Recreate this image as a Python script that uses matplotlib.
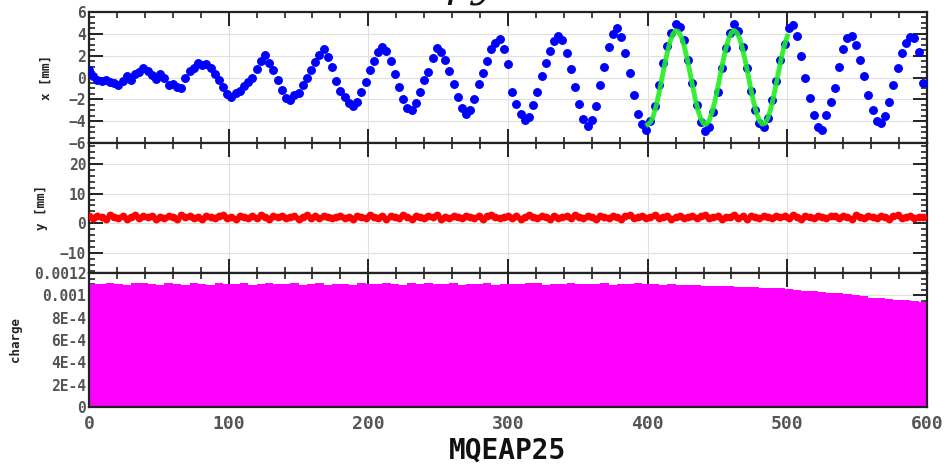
import numpy as np
import matplotlib
matplotlib.use("Agg")
import matplotlib.pyplot as plt
import matplotlib.ticker as mticker

# ── data ────────────────────────────────────────────────────────────────
turn_x = np.arange(0, 600, 3)
x_mm = [
    0.7, 0.1, -0.2, -0.3, -0.2, -0.4, -0.5, -0.7, -0.3, 0.1,
    -0.2, 0.3, 0.5, 0.9, 0.6, 0.2, -0.1, 0.3, 0.0, -0.7,
    -0.6, -0.9, -1.0, 0.0, 0.6, 0.9, 1.3, 1.1, 1.2, 0.9,
    0.3, -0.2, -0.9, -1.5, -1.8, -1.4, -1.2, -0.8, -0.4, 0.0,
    0.8, 1.5, 2.1, 1.3, 0.7, -0.2, -1.1, -1.9, -2.1, -1.6,
    -1.4, -0.7, 0.0, 0.7, 1.4, 2.1, 2.6, 1.9, 1.0, -0.3,
    -1.2, -1.8, -2.3, -2.6, -2.2, -1.3, -0.4, 0.7, 1.5, 2.3,
    2.8, 2.4, 1.5, 0.3, -0.9, -2.0, -2.8, -3.0, -2.3, -1.3,
    -0.2, 0.5, 1.8, 2.7, 2.3, 1.6, 0.6, -0.6, -1.8, -2.8,
    -3.3, -3.0, -2.0, -0.6, 0.4, 1.5, 2.6, 3.2, 3.5, 2.6,
    1.2, -1.3, -2.4, -3.3, -3.9, -3.6, -2.5, -1.3, 0.1, 1.3,
    2.4, 3.3, 3.8, 3.4, 2.2, 0.8, -0.9, -2.4, -3.8, -4.4,
    -3.9, -2.6, -0.7, 1.0, 2.8, 4.0, 4.5, 3.7, 2.2, 0.4,
    -1.6, -3.3, -4.3, -4.8, -4.0, -2.6, -0.7, 1.3, 2.9, 4.1,
    4.9, 4.6, 3.4, 1.6, -0.5, -2.5, -4.1, -4.9, -4.5, -3.2,
    -1.3, 0.9, 2.7, 4.1, 4.9, 4.3, 2.8, 0.9, -1.2, -3.0,
    -4.2, -4.5, -3.7, -2.1, -0.3, 1.6, 3.1, 4.5, 4.8, 3.8,
    2.0, 0.0, -1.9, -3.4, -4.5, -4.8, -3.4, -2.2, -1.0, 1.0,
    2.6, 3.6, 3.8, 3.0, 1.6, 0.1, -1.6, -3.0, -4.0, -4.2,
    -3.5, -2.2, -0.7, 0.9, 2.2, 3.2, 3.7, 3.6, 2.3, -0.5,
]

turn_fit = np.arange(400, 501, 2)
x_fit = [
    -4.30, -4.10, -3.53, -2.63, -1.49, -0.21, 1.08, 2.28, 3.27, 3.96,
    4.28, 4.21, 3.75, 2.95, 1.88, 0.64, -0.67, -1.91, -2.98, -3.77,
    -4.22, -4.28, -3.94, -3.25, -2.25, -1.05, 0.25, 1.52, 2.66, 3.55,
    4.11, 4.30, 4.09, 3.51, 2.60, 1.46, 0.18, -1.12, -2.31, -3.29,
    -3.97, -4.28, -4.20, -3.74, -2.93, -1.85, -0.60, 0.70, 1.94, 3.00,
    3.79,
]

turn_y = np.arange(0, 600, 3)
y_mm = [
    2.3, 1.8, 2.5, 2.0, 1.6, 2.7, 2.2, 1.9, 2.4, 1.5, 2.1, 2.8, 1.7, 2.3, 2.0, 2.6, 1.4, 2.2, 1.9, 2.5,
    2.1, 1.6, 2.9, 2.0, 2.4, 1.8, 2.2, 1.5, 2.6, 2.0, 1.7, 2.3, 2.8, 1.9, 2.1, 1.6, 2.5, 2.2, 1.8, 2.4,
    1.9, 2.7, 2.0, 1.5, 2.3, 2.1, 2.6, 1.8, 2.0, 2.4, 1.6, 2.2, 2.9, 1.9, 2.3, 1.7, 2.5, 2.0, 1.8, 2.2,
    2.6, 1.9, 2.1, 1.5, 2.4, 2.2, 1.7, 2.7, 2.0, 1.8, 2.3, 1.6, 2.5, 2.1, 1.9, 2.8, 2.0, 1.6, 2.3, 2.2,
    1.8, 2.4, 2.0, 2.7, 1.5, 2.2, 1.9, 2.5, 2.1, 1.7, 2.6, 2.0, 1.8, 2.3, 1.6, 2.4, 2.9, 2.0, 1.7, 2.2,
    2.3, 1.9, 2.5, 1.6, 2.1, 2.7, 2.0, 1.8, 2.4, 2.2, 1.5, 2.6, 1.9, 2.1, 2.3, 1.7, 2.8, 2.0, 1.9, 2.4,
    2.0, 1.6, 2.5, 2.2, 1.8, 2.6, 2.1, 1.5, 2.3, 2.7, 1.9, 2.0, 2.4, 1.7, 2.2, 2.8, 1.8, 2.1, 2.5, 1.6,
    2.2, 2.6, 1.9, 2.0, 2.4, 1.7, 2.3, 2.9, 1.8, 2.1, 2.5, 1.6, 2.2, 2.0, 2.7, 1.9, 2.3, 1.5, 2.4, 2.1,
    1.9, 2.5, 2.1, 1.7, 2.6, 2.0, 2.3, 1.8, 2.8, 2.2, 1.6, 2.4, 2.0, 1.9, 2.5, 2.1, 1.7, 2.6, 2.3, 1.8,
    2.4, 2.0, 1.6, 2.7, 2.2, 1.9, 2.5, 2.1, 1.8, 2.6, 2.0, 1.5, 2.3, 2.8, 1.9, 2.2, 2.4, 1.7, 2.1, 2.0,
]

turn_q = np.arange(0, 600, 6)
charge_e4 = [
    11.05, 10.98, 11.10, 11.02, 10.95, 11.08, 11.12, 11.00, 10.96, 11.06,
    11.03, 10.92, 11.07, 11.01, 10.97, 11.09, 11.04, 10.99, 11.11, 10.94,
    11.02, 11.06, 10.98, 11.00, 11.08, 10.95, 11.03, 11.10, 10.97, 11.05,
    11.01, 10.93, 11.07, 11.04, 10.99, 11.09, 11.02, 10.96, 11.06, 11.00,
    11.11, 10.98, 11.03, 11.07, 10.95, 11.05, 11.01, 11.09, 10.97, 11.04,
    11.02, 10.99, 11.08, 11.06, 10.96, 11.03, 11.00, 11.10, 10.98, 11.05,
    11.01, 11.07, 10.97, 11.04, 10.99, 11.06, 11.02,
    11.00, 10.96, 10.98, 10.93, 10.95, 10.90, 10.88, 10.85, 10.82, 10.80,
    10.78, 10.74, 10.72, 10.70, 10.66, 10.62, 10.55, 10.48, 10.42, 10.36,
    10.30, 10.25, 10.18, 10.10, 10.02, 9.90, 9.80, 9.72, 9.66, 9.60,
    9.55, 9.48, 9.42,
]
charge = np.array(charge_e4) * 1e-4

# ── figure ──────────────────────────────────────────────────────────────
MONO = "DejaVu Sans Mono"
TICK_C = "#555555"

fig = plt.figure(figsize=(9.49, 4.68), dpi=100, facecolor="white")
L, R = 89 / 949, 927 / 949
W = R - L
def ybox(top_px, bot_px):
    return [L, 1 - bot_px / 468, W, (bot_px - top_px) / 468]

ax1 = fig.add_axes(ybox(12, 143))
ax2 = fig.add_axes(ybox(143, 273), sharex=ax1)
ax3 = fig.add_axes(ybox(273, 407), sharex=ax1)

# top : x
ax1.plot(turn_x, x_mm, "o", color="#0000ff", ms=5.4, mec="#0000ff", zorder=3)
ax1.plot(turn_fit, x_fit, "-", color="#22ee22", lw=3.5, alpha=0.9, zorder=4)
ax1.set_ylim(-6, 6)
ax1.yaxis.set_major_locator(mticker.MultipleLocator(2))
ax1.yaxis.set_minor_locator(mticker.MultipleLocator(0.5))
ax1.set_ylabel("x [mm]", family=MONO, fontsize=9, fontweight="bold", color="#222222")
ax1.yaxis.set_label_coords(-0.043, 0.5)

# middle : y
ax2.plot(turn_y, y_mm, "o", color="#ff0000", ms=4.6, mec="#ff0000", zorder=3)
ax2.set_ylim(-16.7, 27)
ax2.yaxis.set_major_locator(mticker.FixedLocator([-10, 0, 10, 20]))
ax2.yaxis.set_minor_locator(mticker.MultipleLocator(2))
ax2.set_ylabel("y [mm]", family=MONO, fontsize=9, fontweight="bold", color="#222222")
ax2.yaxis.set_label_coords(-0.049, 0.5)

# bottom : charge
ax3.bar(turn_q, charge, width=6, align="edge", color="#ff00ff", linewidth=0, zorder=2)
ax3.set_ylim(0, 0.0012)
ax3.set_yticks([0, 2e-4, 4e-4, 6e-4, 8e-4, 1e-3, 1.2e-3])
ax3.set_yticklabels(["0", "2E-4", "4E-4", "6E-4", "8E-4", "0.001", "0.0012"])
ax3.yaxis.set_minor_locator(mticker.MultipleLocator(0.5e-4))
ax3.set_ylabel("charge", family=MONO, fontsize=9, fontweight="bold", color="#222222")
ax3.yaxis.set_label_coords(-0.080, 0.5)

ax3.set_xlim(0, 600)
ax3.xaxis.set_major_locator(mticker.MultipleLocator(100))
ax3.xaxis.set_minor_locator(mticker.MultipleLocator(20))
ax3.set_xlabel("MQEAP25", family=MONO, fontsize=20, fontweight="bold",
               color="#111111", labelpad=2)

for ax in (ax1, ax2, ax3):
    ax.grid(True, which="major", color="#e0e0e0", lw=0.8, zorder=0)
    ax.set_axisbelow(True)
    for s in ax.spines.values():
        s.set_linewidth(1.6)
        s.set_color("#222222")
    ax.tick_params(which="both", direction="in", top=True, right=True,
                   color="#222222")
    ax.tick_params(which="major", length=10, width=1.4)
    ax.tick_params(which="minor", length=4, width=1.2)
    ax.tick_params(axis="y", which="major", labelsize=10.5, labelcolor=TICK_C, pad=2)
    for lab in ax.get_yticklabels():
        lab.set_family(MONO)
        lab.set_fontweight("bold")

for ax in (ax1, ax2):
    ax.tick_params(axis="x", labelbottom=False)

ax3.tick_params(axis="x", which="major", labelsize=13, labelcolor=TICK_C, pad=6)
for lab in ax3.get_xticklabels():
    lab.set_family(MONO)
    lab.set_fontweight("bold")

# title, cut off at the top edge in the original (only descenders show)
fig.text(470 / 949, 1 + 3 / 468, "py", family="DejaVu Serif", style="italic",
         fontsize=30, ha="center", va="baseline", color="#111111")

fig.savefig("out.png", dpi=100, facecolor="white")
